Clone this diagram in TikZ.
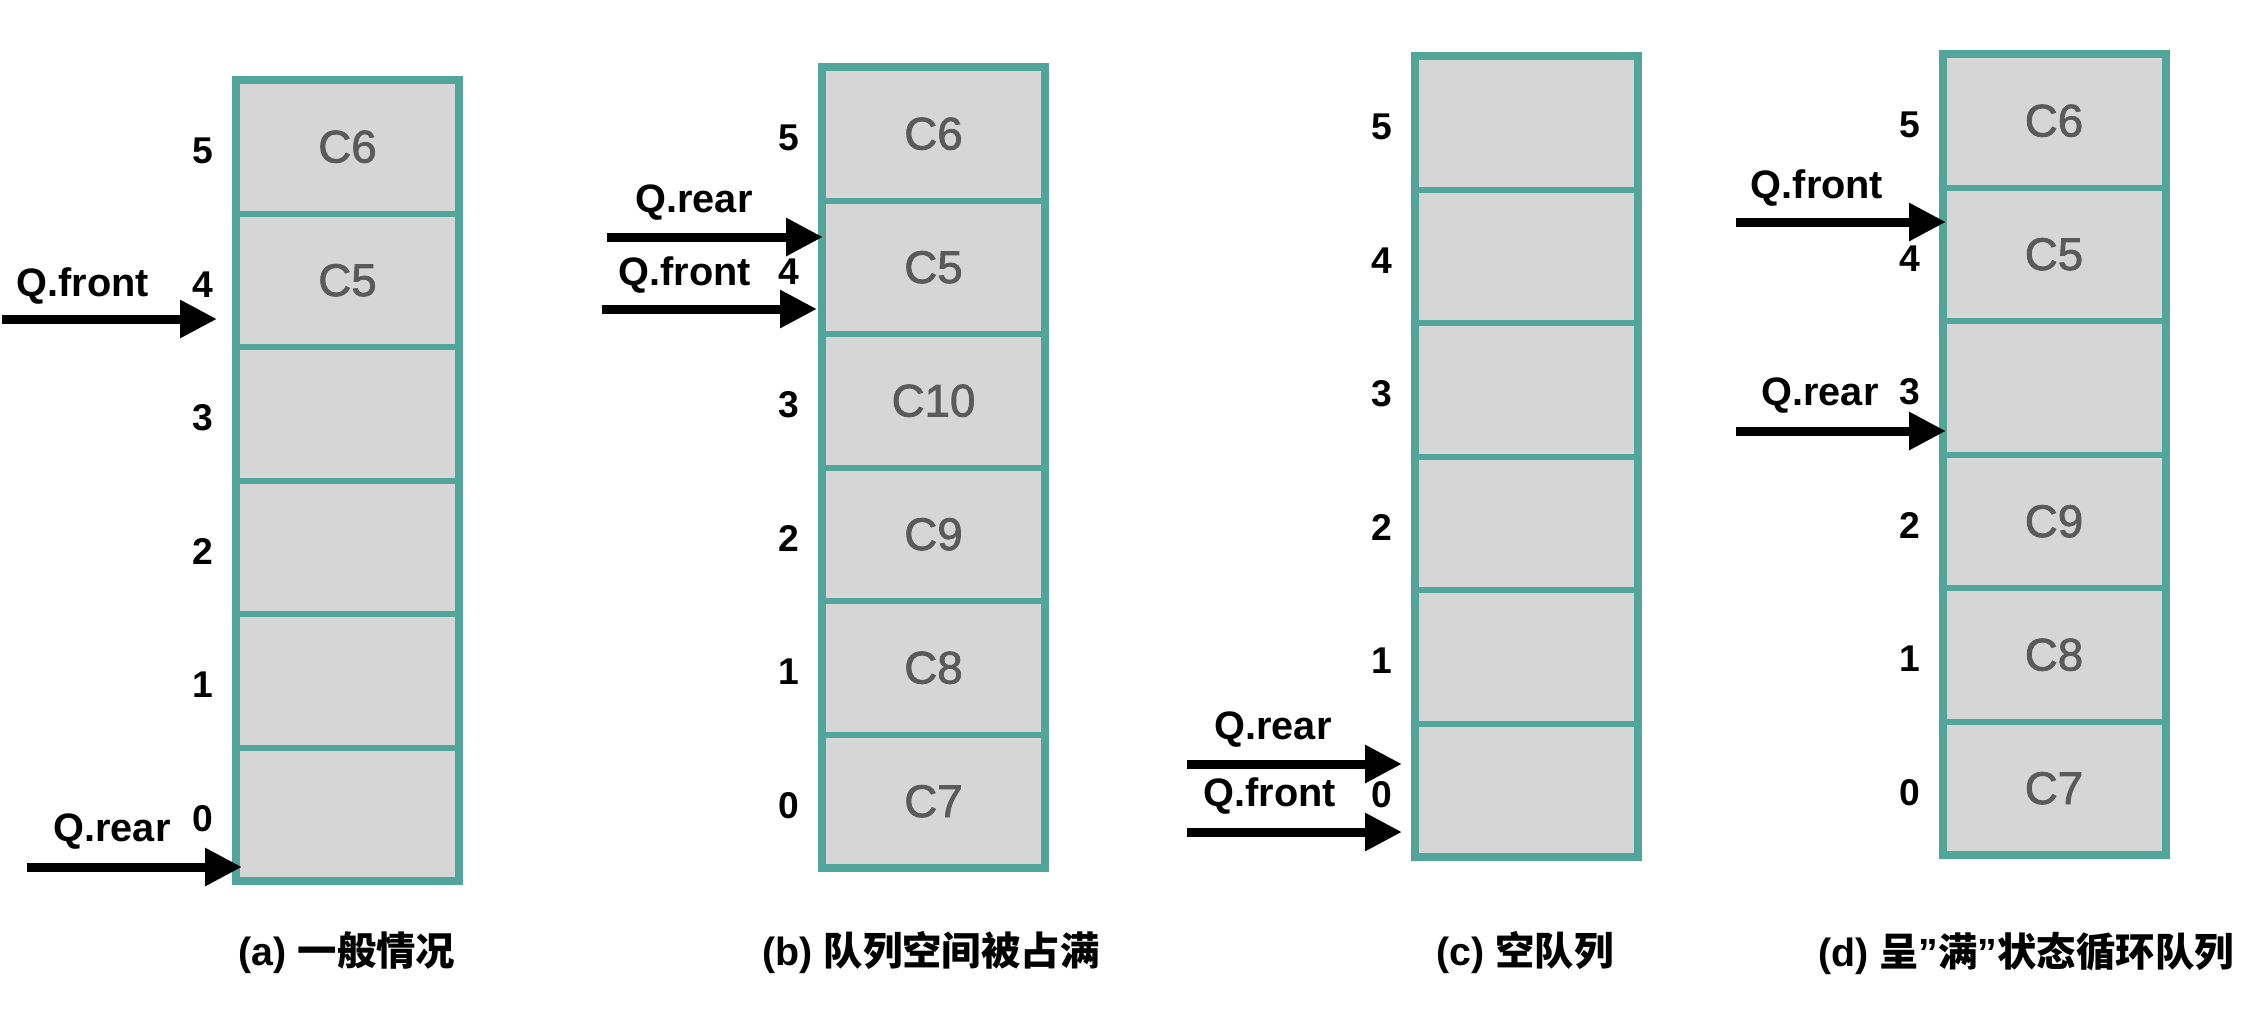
\documentclass[tikz,border=0pt]{standalone}
\usepackage{fontspec}
\setmainfont{Liberation Sans}
\newfontfamily\cjk{Noto Sans CJK SC}
\newfontfamily\medium{Liberation Sans}[FakeBold=1.8]
\usepackage{tikz}
\usetikzlibrary{arrows.meta}
\definecolor{tealx}{HTML}{52A59B}
\definecolor{cellbg}{HTML}{D6D6D6}
\definecolor{cgray}{HTML}{5A5A5A}
\tikzset{
  cell/.style={draw=tealx,line width=0.6mm,fill=cellbg,minimum width=22.3mm,minimum height=13.35mm,inner sep=0pt,outer sep=0pt,text=cgray,font=\medium\fontsize{13}{15}\selectfont},
  idx/.style={anchor=east,inner sep=0pt,font=\bfseries\fontsize{10.6}{12}\selectfont},
  frame/.style={draw=tealx,line width=0.8mm},
  ptr/.style={-{Triangle[length=3.7mm,width=3.6mm]},line width=0.9mm},
  lbl/.style={font=\bfseries\fontsize{11.3}{13}\selectfont},
  captxt/.style={font=\bfseries\fontsize{11.2}{13}\selectfont}
}

\begin{document}
\begin{tikzpicture}[x=0.1mm,y=-0.1mm]
\useasboundingbox (0,0) rectangle (2254,1008);
% (a) general case
\foreach \c [count=\i from 0] in {{},{},{},{},C5,C6}{
  \node[cell] (a\i) at (347.5,{80+(5-\i)*133.5+66.75}) {\raisebox{-0.4mm}{\c}};
  \node[idx] (ia\i) at ([xshift=-2.2mm,yshift=-0.4mm]a\i.west) {\i};
}
\draw[frame] (a0.south west) rectangle (a5.north east);
\coordinate (af0) at (2,319); \coordinate (af1) at (217,319);
\draw[ptr] (af0)--(af1);
\node[lbl] (afront) at (83,286) {Q.front};
\coordinate (ar0) at (27,867); \coordinate (ar1) at (242,867);
\draw[ptr] (ar0)--(ar1);
\node[lbl] (arear) at (112,832) {Q.rear};
\node[captxt] (capa) at (347,953) {(a) {\cjk 一般情况}};
% (b) all space taken
\foreach \c [count=\i from 0] in {C7,C8,C9,C10,C5,C6}{
  \node[cell] (b\i) at (933.5,{67+(5-\i)*133.5+66.75}) {\raisebox{-0.4mm}{\c}};
  \node[idx] (ib\i) at ([xshift=-2.2mm,yshift=-0.4mm]b\i.west) {\i};
}
\draw[frame] (b0.south west) rectangle (b5.north east);
\coordinate (br0) at (607,237); \coordinate (br1) at (823,237);
\draw[ptr] (br0)--(br1);
\node[lbl] (brear) at (694,203) {Q.rear};
\coordinate (bf0) at (602,309); \coordinate (bf1) at (817,309);
\draw[ptr] (bf0)--(bf1);
\node[lbl] (bfront) at (685,275) {Q.front};
\node[captxt] (capb) at (931,953) {(b) {\cjk 队列空间被占满}};
% (c) empty queue
\foreach \c [count=\i from 0] in {{},{},{},{},{},{}}{
  \node[cell] (c\i) at (1526.5,{56+(5-\i)*133.5+66.75}) {\c};
  \node[idx] (ic\i) at ([xshift=-2.2mm,yshift=-0.4mm]c\i.west) {\i};
}
\draw[frame] (c0.south west) rectangle (c5.north east);
\coordinate (cr0) at (1187,764); \coordinate (cr1) at (1402,764);
\draw[ptr] (cr0)--(cr1);
\node[lbl] (crear) at (1273,730) {Q.rear};
\coordinate (cf0) at (1187,832); \coordinate (cf1) at (1402,832);
\draw[ptr] (cf0)--(cf1);
\node[lbl] (cfront) at (1270,796) {Q.front};
\node[captxt] (capc) at (1525,953) {(c) {\cjk 空队列}};
% (d) "full" circular queue
\foreach \c [count=\i from 0] in {C7,C8,C9,{},C5,C6}{
  \node[cell] (d\i) at (2054,{54+(5-\i)*133.5+66.75}) {\raisebox{-0.4mm}{\c}};
  \node[idx] (id\i) at ([xshift=-2.2mm,yshift=-0.4mm]d\i.west) {\i};
}
\draw[frame] (d0.south west) rectangle (d5.north east);
\coordinate (df0) at (1736,222); \coordinate (df1) at (1946,222);
\draw[ptr] (df0)--(df1);
\node[lbl] (dfront) at (1817,188) {Q.front};
\coordinate (dr0) at (1736,431); \coordinate (dr1) at (1946,431);
\draw[ptr] (dr0)--(dr1);
\node[lbl] (drear) at (1820,396) {Q.rear};
\node[captxt] (capd) at (2026,953) {(d) {\cjk 呈}”{\cjk 满}”{\cjk 状态循环队列}};
\end{tikzpicture}
\end{document}
